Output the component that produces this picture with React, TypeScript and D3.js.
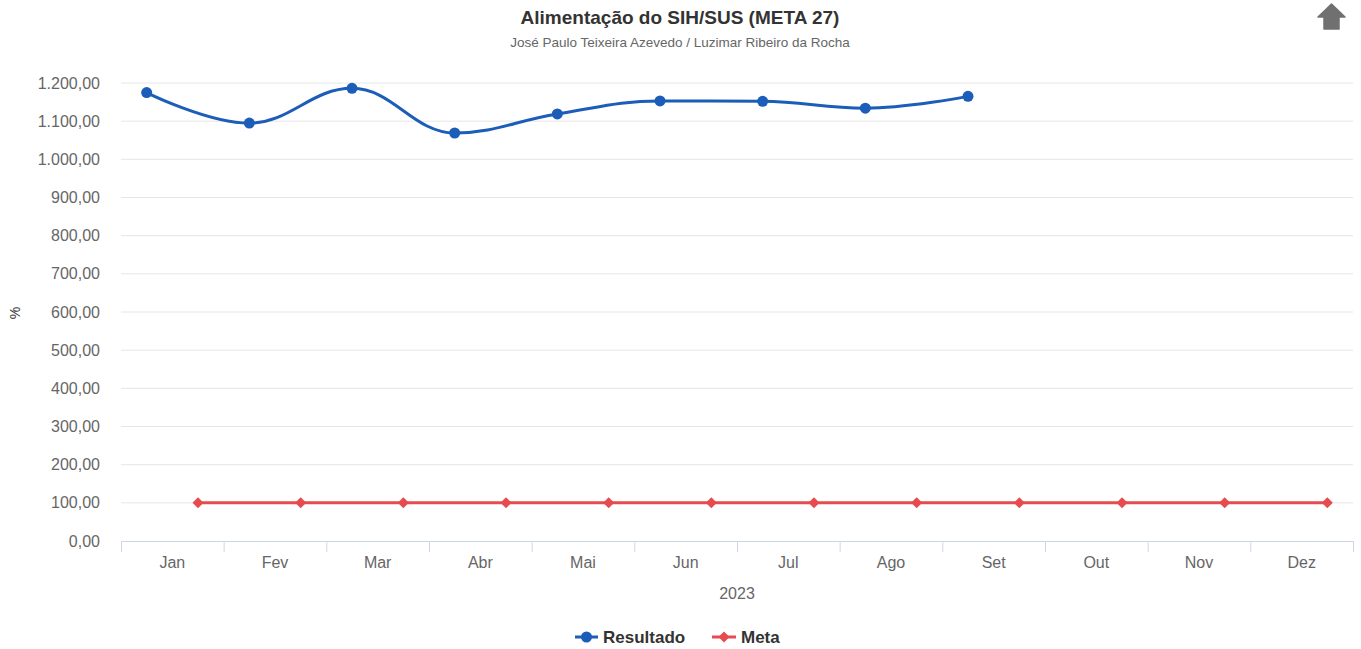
import React from "react";
import * as d3 from "d3";

const months = ["Jan", "Fev", "Mar", "Abr", "Mai", "Jun", "Jul", "Ago", "Set", "Out", "Nov", "Dez"];
const resultado = [1175, 1095, 1186, 1069, 1119, 1153, 1152, 1134, 1165];
const meta = [100, 100, 100, 100, 100, 100, 100, 100, 100, 100, 100, 100];
const yTicks = [0, 100, 200, 300, 400, 500, 600, 700, 800, 900, 1000, 1100, 1200];

const W = 1361, H = 649;
const left = 121, right = 1353, top = 83, bottom = 541;
const BLUE = "#1b5db8";
const RED = "#e64b50";
const FONT = "'Liberation Sans', Arial, Helvetica, sans-serif";

function fmt(v: number) {
  const s = v.toFixed(2).replace(".", ",");
  const [i, d] = s.split(",");
  return i.replace(/\B(?=(\d{3})+(?!\d))/g, ".") + "," + d;
}

function splinePath(pts: [number, number][]) {
  const p = d3.path();
  const smoothing = 1.5, denom = smoothing + 1;
  const rc: ({ x: number; y: number } | null)[] = pts.map(() => null);
  pts.forEach(([x, y], i) => {
    if (i === 0) { p.moveTo(x, y); return; }
    const last = pts[i - 1];
    const next = pts[i + 1];
    let lcx = x, lcy = y;
    if (next) {
      lcx = (smoothing * x + last[0]) / denom;
      lcy = (smoothing * y + last[1]) / denom;
      const rcx = (smoothing * x + next[0]) / denom;
      let rcy = (smoothing * y + next[1]) / denom;
      if (rcx !== lcx) {
        const corr = ((rcy - lcy) * (rcx - x)) / (rcx - lcx) + y - rcy;
        lcy += corr; rcy += corr;
        if (lcy > last[1] && lcy > y) { lcy = Math.max(last[1], y); rcy = 2 * y - lcy; }
        else if (lcy < last[1] && lcy < y) { lcy = Math.min(last[1], y); rcy = 2 * y - lcy; }
        if (rcy > next[1] && rcy > y) { rcy = Math.max(next[1], y); lcy = 2 * y - rcy; }
        else if (rcy < next[1] && rcy < y) { rcy = Math.min(next[1], y); lcy = 2 * y - rcy; }
      }
      rc[i] = { x: rcx, y: rcy };
    }
    const prc = rc[i - 1];
    p.bezierCurveTo(prc ? prc.x : last[0], prc ? prc.y : last[1], lcx, lcy, x, y);
  });
  return p.toString();
}

export default function App() {
  const x = d3.scaleBand<string>().domain(months).range([left, right]);
  const y = d3.scaleLinear().domain([0, 1200]).range([bottom, top]);
  const bw = x.bandwidth();
  const bluePts: [number, number][] = resultado.map((v, i) => [x(months[i])! + bw * 0.25, y(v)]);
  const redPts: [number, number][] = meta.map((v, i) => [x(months[i])! + bw * 0.75, y(v)]);
  const redLine = d3.line()(redPts) || "";
  const boundaries = months.map((m) => x(m)!).concat([right]);

  return (
    <svg width={W} height={H} style={{ position: "absolute", left: 0, top: 0, fontFamily: FONT }}>
      <rect width={W} height={H} fill="#fff" />
      <text x={680} y={23.5} textAnchor="middle" fontSize={19} fontWeight="bold" fill="#333">
        Alimentação do SIH/SUS (META 27)
      </text>
      <text x={680} y={46.5} textAnchor="middle" fontSize={13.5} fill="#666">
        José Paulo Teixeira Azevedo / Luzimar Ribeiro da Rocha
      </text>
      {/* export icon */}
      <path d="M1331.5,4 L1345,17 L1339,17 L1339,29 L1324,29 L1324,17 L1318,17 Z" fill="#707070" stroke="#707070" strokeWidth={1.5} strokeLinejoin="round" />

      {yTicks.map((t) => (
        <g key={t}>
          {t > 0 && <line x1={left} x2={right} y1={y(t)} y2={y(t)} stroke="#e6e6e6" strokeWidth={1} />}
          <text x={100} y={y(t) + 5.5} textAnchor="end" fontSize={16} fill="#666">{fmt(t)}</text>
        </g>
      ))}
      <line x1={left} x2={right} y1={bottom + 0.5} y2={bottom + 0.5} stroke="#ccd6eb" strokeWidth={1} />
      {boundaries.map((b, i) => (
        <line key={i} x1={b + 0.5} x2={b + 0.5} y1={bottom} y2={bottom + 11} stroke="#ccd6eb" strokeWidth={1} />
      ))}
      {months.map((m) => (
        <text key={m} x={x(m)! + bw / 2} y={568} textAnchor="middle" fontSize={16} fill="#666">{m}</text>
      ))}
      <text x={737} y={599} textAnchor="middle" fontSize={16} fill="#666">2023</text>
      <text transform="translate(20,313) rotate(-90)" textAnchor="middle" fontSize={14} fill="#333">%</text>

      <path d={redLine} fill="none" stroke={RED} strokeWidth={3} />
      {redPts.map(([px, py], i) => (
        <path key={i} d={`M${px},${py - 5.5} L${px + 5.5},${py} L${px},${py + 5.5} L${px - 5.5},${py} Z`} fill={RED} />
      ))}
      <path d={splinePath(bluePts)} fill="none" stroke={BLUE} strokeWidth={3} />
      {bluePts.map(([px, py], i) => (
        <circle key={i} cx={px} cy={py} r={5.5} fill={BLUE} />
      ))}

      {/* legend */}
      <line x1={575} x2={598} y1={637} y2={637} stroke={BLUE} strokeWidth={3} />
      <circle cx={586.5} cy={637} r={5.5} fill={BLUE} />
      <text x={603} y={643} fontSize={17} fontWeight="bold" fill="#333">Resultado</text>
      <line x1={712} x2={736} y1={637} y2={637} stroke={RED} strokeWidth={3} />
      <path d="M724,631.5 L729.5,637 L724,642.5 L718.5,637 Z" fill={RED} />
      <text x={741} y={643} fontSize={17} fontWeight="bold" fill="#333">Meta</text>
    </svg>
  );
}
